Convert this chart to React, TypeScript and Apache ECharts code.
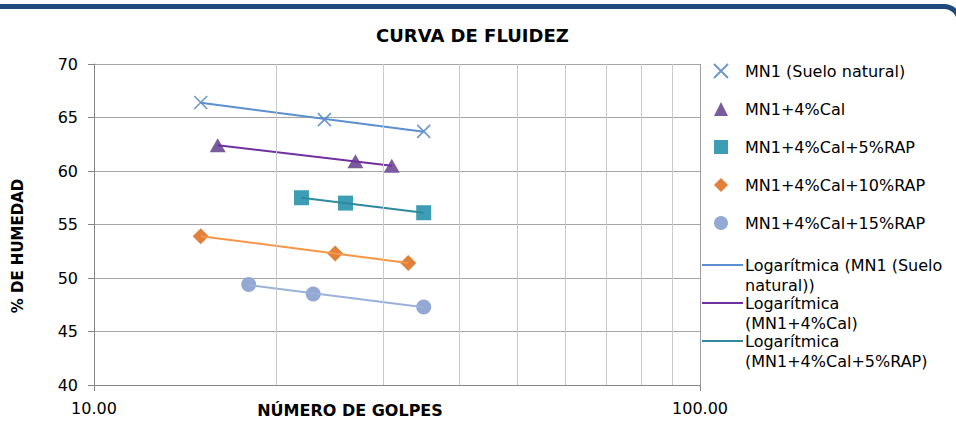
import React, { useEffect, useRef } from "react";
import * as echarts from "echarts";

const FONT = "DejaVu Sans";

const seriesNames = [
  "MN1 (Suelo natural)",
  "MN1+4%Cal",
  "MN1+4%Cal+5%RAP",
  "MN1+4%Cal+10%RAP",
  "MN1+4%Cal+15%RAP",
];

const golpesMN1 = [15, 24, 35];
const humedadMN1 = [66.4, 64.8, 63.7];
const golpesCal4 = [16, 27, 31];
const humedadCal4 = [62.4, 60.9, 60.5];
const golpesRap5 = [22, 26, 35];
const humedadRap5 = [57.5, 57.0, 56.1];
const golpesRap10 = [15, 25, 33];
const humedadRap10 = [53.9, 52.3, 51.4];
const golpesRap15 = [18, 23, 35];
const humedadRap15 = [49.4, 48.5, 47.3];

const minorGridX = [20, 30, 40, 50, 60, 70, 80, 90];

const trendLegendTexts = [
  "Logarítmica (MN1 (Suelo\nnatural))",
  "Logarítmica\n(MN1+4%Cal)",
  "Logarítmica\n(MN1+4%Cal+5%RAP)",
];

const markerColors = ["#4a7ebb", "#7a5c9e", "#3d9db4", "#e0803a", "#93a9d4"];
const trendColors = ["#5b8fd0", "#7030a0", "#2f8a9e", "#f79646", "#98b2d9"];
const symbols = [
  "path://M0,0L10,10M10,0L0,10",
  "triangle",
  "rect",
  "diamond",
  "circle",
];
const symbolSizes = [13, [16, 14], 15, 16, 15];

function zip(xs: number[], ys: number[]) {
  return xs.map((x, i) => [x, ys[i]]);
}

function logFit(xs: number[], ys: number[]) {
  const lx = xs.map((x) => Math.log(x));
  const n = xs.length;
  const mx = lx.reduce((a, b) => a + b, 0) / n;
  const my = ys.reduce((a, b) => a + b, 0) / n;
  let sxy = 0;
  let sxx = 0;
  for (let i = 0; i < n; i++) {
    sxy += (lx[i] - mx) * (ys[i] - my);
    sxx += (lx[i] - mx) * (lx[i] - mx);
  }
  const a = sxy / sxx;
  const b = my - a * mx;
  const x0 = Math.min(...xs);
  const x1 = Math.max(...xs);
  return [
    [x0, a * Math.log(x0) + b],
    [x1, a * Math.log(x1) + b],
  ];
}

export default function App() {
  const ref = useRef<HTMLDivElement>(null);

  useEffect(() => {
    if (!ref.current) return;
    const chart = echarts.init(ref.current, undefined, { renderer: "svg" });

    const xs = [golpesMN1, golpesCal4, golpesRap5, golpesRap10, golpesRap15];
    const ys = [humedadMN1, humedadCal4, humedadRap5, humedadRap10, humedadRap15];

    const scatterSeries = seriesNames.map((name, i) => ({
      name,
      type: "scatter",
      data: zip(xs[i], ys[i]),
      symbol: symbols[i],
      symbolSize: symbolSizes[i],
      itemStyle:
        i === 0
          ? { color: "rgba(0,0,0,0)", borderColor: markerColors[0], borderWidth: 1.6 }
          : { color: markerColors[i], opacity: 1 },
      z: 3,
    }));

    const trendSeries = seriesNames.map((name, i) => ({
      name: "Logarítmica (" + name + ")",
      type: "line",
      data: logFit(xs[i], ys[i]),
      symbol: "none",
      lineStyle: { color: trendColors[i], width: 2 },
      z: 4,
      silent: true,
    }));

    const gridSeries = {
      name: "grid",
      type: "scatter",
      data: [],
      silent: true,
      markLine: {
        silent: true,
        symbol: ["none", "none"],
        label: { show: false },
        lineStyle: { color: "#c9c9c9", width: 1, type: "solid" },
        data: minorGridX.map((v) => ({ xAxis: v })),
        animation: false,
      },
      z: 1,
    };

    const graphic: any[] = [
      {
        type: "text",
        x: 350,
        y: 410,
        style: {
          text: "NÚMERO DE GOLPES",
          font: `bold 16px '${FONT}'`,
          fill: "#000",
          align: "center",
          verticalAlign: "middle",
        },
      },
      {
        type: "text",
        x: 18,
        y: 246,
        rotation: Math.PI / 2,
        style: {
          text: "% DE HUMEDAD",
          font: `bold 15px '${FONT}'`,
          fill: "#000",
          align: "center",
          verticalAlign: "middle",
        },
      },
    ];
    trendLegendTexts.forEach((t, i) => {
      const y = 265 + i * 38;
      graphic.push({
        type: "line",
        shape: { x1: 702, y1: y, x2: 743, y2: y },
        style: { stroke: trendColors[i], lineWidth: 2 },
      });
      graphic.push({
        type: "text",
        x: 745,
        y: y - 10,
        style: {
          text: t,
          font: `16px '${FONT}'`,
          lineHeight: 20,
          fill: "#000",
          align: "left",
          verticalAlign: "top",
        },
      });
    });

    chart.setOption({
      animation: false,
      backgroundColor: "#fff",
      textStyle: { fontFamily: FONT },
      title: {
        text: "CURVA DE FLUIDEZ",
        left: 376,
        top: 26,
        padding: 0,
        textStyle: { fontFamily: FONT, fontWeight: "bold", fontSize: 18, color: "#000" },
      },
      legend: {
        data: seriesNames,
        orient: "vertical",
        left: 713,
        top: 63,
        padding: 0,
        itemWidth: 14,
        itemHeight: 14,
        itemGap: 22,
        textStyle: {
          fontFamily: FONT,
          fontSize: 16,
          lineHeight: 16,
          color: "#000",
          padding: [0, 0, 0, 12],
        },
        selectedMode: false,
      },
      grid: { left: 94, top: 64, right: 256, bottom: 40, containLabel: false },
      xAxis: {
        type: "log",
        logBase: 10,
        min: 10,
        max: 100,
        axisLine: { show: true, lineStyle: { color: "#868686", width: 1 } },
        axisTick: { show: true, length: 6, lineStyle: { color: "#868686" } },
        axisLabel: {
          formatter: (v: number) => v.toFixed(2),
          fontFamily: FONT,
          fontSize: 16,
          color: "#000",
          margin: 15,
        },
        splitLine: { show: true, lineStyle: { color: "#a0a0a0", width: 1 } },
        minorTick: { show: false },
      },
      yAxis: {
        type: "value",
        min: 40,
        max: 70,
        interval: 5,
        axisLine: { show: true, lineStyle: { color: "#868686", width: 1 } },
        axisTick: { show: true, length: 6, lineStyle: { color: "#868686" } },
        axisLabel: { fontFamily: FONT, fontSize: 16, color: "#000", margin: 16 },
        splitLine: { show: true, lineStyle: { color: "#a6a6a6", width: 1 } },
      },
      graphic,
      series: [gridSeries, ...scatterSeries, ...trendSeries],
    });

    return () => chart.dispose();
  }, []);

  return (
    <div
      style={{
        position: "fixed",
        left: 0,
        top: 0,
        width: 956,
        height: 425,
        overflow: "hidden",
        background: "#fff",
      }}
    >
      <div ref={ref} style={{ position: "absolute", left: 0, top: 0, width: 956, height: 425 }} />
      <div
        style={{
          position: "absolute",
          left: -20,
          top: 4,
          width: 982,
          height: 500,
          boxSizing: "border-box",
          border: "5px solid #1f497d",
          borderRadius: 18,
          pointerEvents: "none",
        }}
      />
    </div>
  );
}
